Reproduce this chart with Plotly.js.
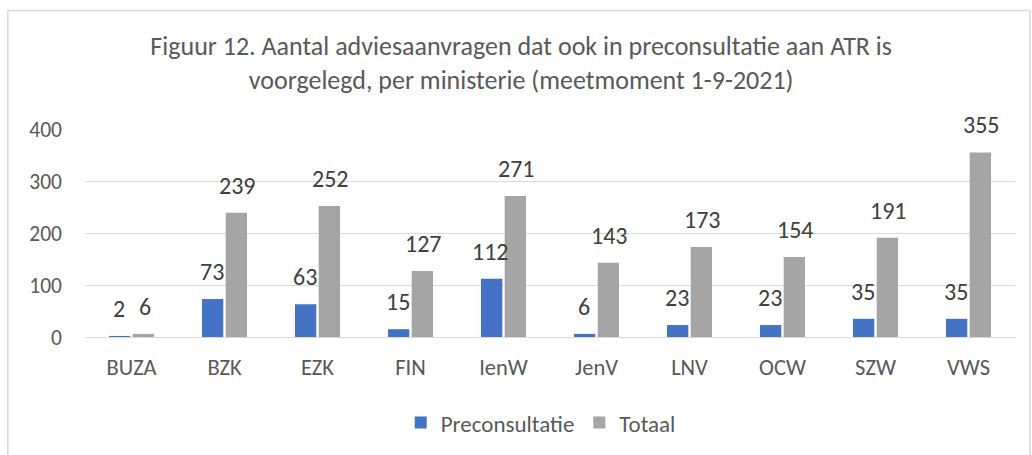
<!DOCTYPE html>
<html>
<head>
<meta charset="utf-8">
<script src="https://cdn.plot.ly/plotly-3.0.1.min.js"></script>
<style>
  body { margin: 0; background: #fff; }
  #chart { width: 1032px; height: 455px; }
</style>
</head>
<body>
<div id="chart"></div>
<script>
// Ministeries en aantallen (meetmoment 1-9-2021)
const ministeries = ["BUZA", "BZK", "EZK", "FIN", "IenW", "JenV", "LNV", "OCW", "SZW", "VWS"];
const preconsultatie = [2, 73, 63, 15, 112, 6, 23, 23, 35, 35];
const totaal = [6, 239, 252, 127, 271, 143, 173, 154, 191, 355];

const fontFam = "Calibri, Carlito, 'Open Sans', sans-serif";

const traces = [
    {
        x: ministeries,
        y: preconsultatie,
        type: "bar",
        name: "Preconsultatie",
        marker: { color: "#4472C4" },
    },
    {
        x: ministeries,
        y: totaal,
        type: "bar",
        name: "Totaal",
        marker: { color: "#A5A5A5" },
    },
];

// data labels boven de staven
const labels = [];
ministeries.forEach((m, i) => {
    labels.push({ x: m, y: preconsultatie[i], text: String(preconsultatie[i]), xshift: -13 });
    labels.push({ x: m, y: totaal[i], text: String(totaal[i]), xshift: 13 });
});
const annotations = labels.map(l => ({
    x: l.x,
    y: l.y,
    xref: "x",
    yref: "y",
    text: l.text,
    showarrow: false,
    xshift: l.xshift,
    yshift: 11,
    yanchor: "bottom",
    font: { family: fontFam, size: 24, color: "#404040" },
}));

const layout = {
    width: 1032,
    height: 455,
    margin: { l: 85, r: 17, t: 129, b: 117 },
    paper_bgcolor: "#fff",
    plot_bgcolor: "#fff",
    font: { family: fontFam, color: "#595959" },
    title: {
        text: "Figuur 12. Aantal adviesaanvragen dat ook in preconsultatie aan ATR is<br>voorgelegd, per ministerie (meetmoment 1-9-2021)",
        font: { family: fontFam, size: 26, color: "#595959" },
        x: 0.505,
        xanchor: "center",
        y: 0.879,
        yanchor: "middle",
    },
    barmode: "group",
    bargap: 0.49,
    bargroupgap: 0.1,
    xaxis: {
        tickfont: { size: 22.5, color: "#595959" },
        showline: true,
        linecolor: "#D9D9D9",
        linewidth: 1,
        ticks: "",
        ticklabelstandoff: 10,
    },
    yaxis: {
        range: [0, 400],
        dtick: 100,
        tickfont: { size: 21.5, color: "#595959" },
        gridcolor: "#D9D9D9",
        gridwidth: 1,
        zeroline: false,
        ticks: "",
        ticklabelstandoff: 22,
    },
    legend: {
        orientation: "h",
        x: 0.49,
        xanchor: "center",
        y: -0.405,
        yanchor: "middle",
        font: { size: 23, color: "#595959" },
        itemwidth: 30,
        tracegroupgap: 0,
    },
    annotations: annotations,
    shapes: [
        {
            type: "rect",
            xref: "paper",
            yref: "paper",
            x0: -0.083,
            x1: 1.016,
            y0: -1.5,
            y1: 1.57,
            line: { color: "#D9D9D9", width: 1.5 },
        },
    ],
};

Plotly.newPlot("chart", traces, layout, { displayModeBar: false, staticPlot: true });
</script>
</body>
</html>
